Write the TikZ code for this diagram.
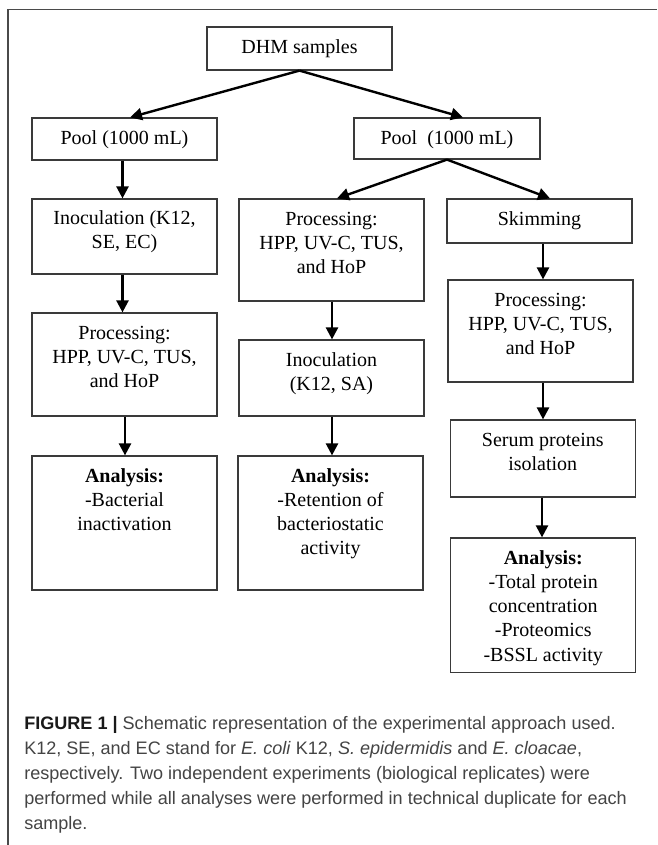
\documentclass[tikz,border=0pt]{standalone}
\usepackage{fontspec}
\setmainfont{Liberation Serif}
\newfontfamily\capfont{Liberation Sans}
\usetikzlibrary{arrows.meta,calc}
\definecolor{framecol}{HTML}{4A4A4A}
\definecolor{boxcol}{HTML}{3A3A3A}
\definecolor{captext}{HTML}{444444}
\begin{document}
\begin{tikzpicture}[x=0.75pt,y=-0.75pt,
  box/.style={draw=boxcol, line width=0.9pt, inner sep=0pt, minimum width=138.75pt},
  txt/.style={anchor=north, inner sep=0pt, align=center, text=black,
              font=\fontsize{15}{18.2}\selectfont},
  ar/.style={-{Triangle[length=9pt,width=9pt]}, line width=1.8pt, black},
  captxt/.style={anchor=north west, inner sep=0pt, align=left, text=captext,
              font=\capfont\fontsize{13.55}{18.75}\selectfont}]
\useasboundingbox (0,0) rectangle (657,845);
\fill[white] (0,0) rectangle (657,845);
% frame
\draw[framecol, line width=1.1pt] (8,845) -- (8,9.5) -- (657,9.5);
% boxes
\node[box, minimum height=32.25pt] (dhm) at (299.5,48.5) {};
\node[box, minimum height=31.5pt] (poolL) at (124.5,139) {};
\node[box, minimum height=30.75pt, minimum width=139.5pt] (poolR) at (447,138.5) {};
\node[box, minimum height=56.25pt] (inocL) at (124.5,236.5) {};
\node[box, minimum height=76.5pt] (procM) at (331.5,250) {};
\node[box, minimum height=33pt] (skim) at (539.5,221) {};
\node[box, minimum height=76.5pt] (procR) at (540.5,331) {};
\node[box, minimum height=77.25pt] (procL) at (124.5,364.5) {};
\node[box, minimum height=57pt] (inocM) at (331.5,378) {};
\node[box, minimum height=57.75pt] (serum) at (542.75,458.5) {};
\node[box, minimum height=100.5pt] (anaL) at (124.5,523) {};
\node[box, minimum height=100.5pt] (anaM) at (330.5,523) {};
\node[box, minimum height=101pt] (anaR) at (543.25,605.3) {};
% texts
\node[txt] (tdhm) at ($(dhm.north)+(0,9.5)$) {\strut DHM samples};
\node[txt] (tpoolL) at ($(poolL.north)+(0,9.5)$) {\strut Pool (1000 mL)};
\node[txt] (tpoolR) at ($(poolR.north)+(0,9.5)$) {\strut Pool\ \ (1000 mL)};
\node[txt] (tinocL) at ($(inocL.north)+(0,9)$) {\strut Inoculation (K12,\\ SE, EC)};
\node[txt] (tprocM) at ($(procM.north)+(0,9.5)$) {\strut Processing:\\ HPP, UV-C, TUS,\\ and HoP};
\node[txt] (tskim) at ($(skim.north)+(0,9.5)$) {\strut Skimming};
\node[txt] (tprocR) at ($(procR.north)+(0,9.5)$) {\strut Processing:\\ HPP, UV-C, TUS,\\ and HoP};
\node[txt] (tprocL) at ($(procL.north)+(0,9.5)$) {\strut Processing:\\ HPP, UV-C, TUS,\\ and HoP};
\node[txt] (tinocM) at ($(inocM.north)+(0,9.5)$) {\strut Inoculation\\ (K12, SA)};
\node[txt] (tserum) at ($(serum.north)+(0,9.5)$) {\strut Serum proteins\\ isolation};
\node[txt] (tanaL) at ($(anaL.north)+(0,9.5)$) {\strut\textbf{Analysis:}\\ -Bacterial\\ inactivation};
\node[txt] (tanaM) at ($(anaM.north)+(0,9.5)$) {\strut\textbf{Analysis:}\\ -Retention of\\ bacteriostatic\\ activity};
\node[txt] (tanaR) at ($(anaR.north)+(0,9.5)$) {\strut\textbf{Analysis:}\\ -Total protein\\ concentration\\ -Proteomics\\ -BSSL activity};
% arrows
\draw[ar] (dhm.south) -- ($(poolL.north)+(5.5,0)$);
\draw[ar] (dhm.south) -- ($(poolR.north)+(16,0)$);
\draw[ar] (poolR.south) -- ($(procM.north)+(5.5,0)$);
\draw[ar] (poolR.south) -- ($(skim.north)+(10.5,0)$);
\draw[ar] ($(poolL.south)+(-2,0)$) -- ($(inocL.north)+(-2,0)$);
\draw[ar] ($(inocL.south)+(-2,0)$) -- ($(procL.north)+(-2,0)$);
\draw[ar] ($(procL.south)+(0.5,0)$) -- ($(anaL.north)+(0.5,0)$);
\draw[ar] ($(procM.south)+(0.5,0)$) -- ($(inocM.north)+(0.5,0)$);
\draw[ar] ($(inocM.south)+(0.5,0)$) -- ($(anaM.north)+(1.5,0)$);
\draw[ar] ($(skim.south)+(3.5,0)$) -- ($(procR.north)+(2.5,0)$);
\draw[ar] ($(procR.south)+(2.5,0)$) -- ($(serum.north)+(0.25,0)$);
\draw[ar] ($(serum.south)+(-0.75,0)$) -- ($(anaR.north)+(-1.25,0)$);
% caption
\node[captxt] (cap) at (24,716.2) {{\color{black!90}\textbf{FIGURE 1 |}} Schematic representation of the experimental approach used.\\
K12, SE, and EC stand for \textit{E. coli} K12, \textit{S. epidermidis} and \textit{E. cloacae},\\
respectively. Two independent experiments (biological replicates) were\\
performed while all analyses were performed in technical duplicate for each\\
sample.};
\end{tikzpicture}
\end{document}
